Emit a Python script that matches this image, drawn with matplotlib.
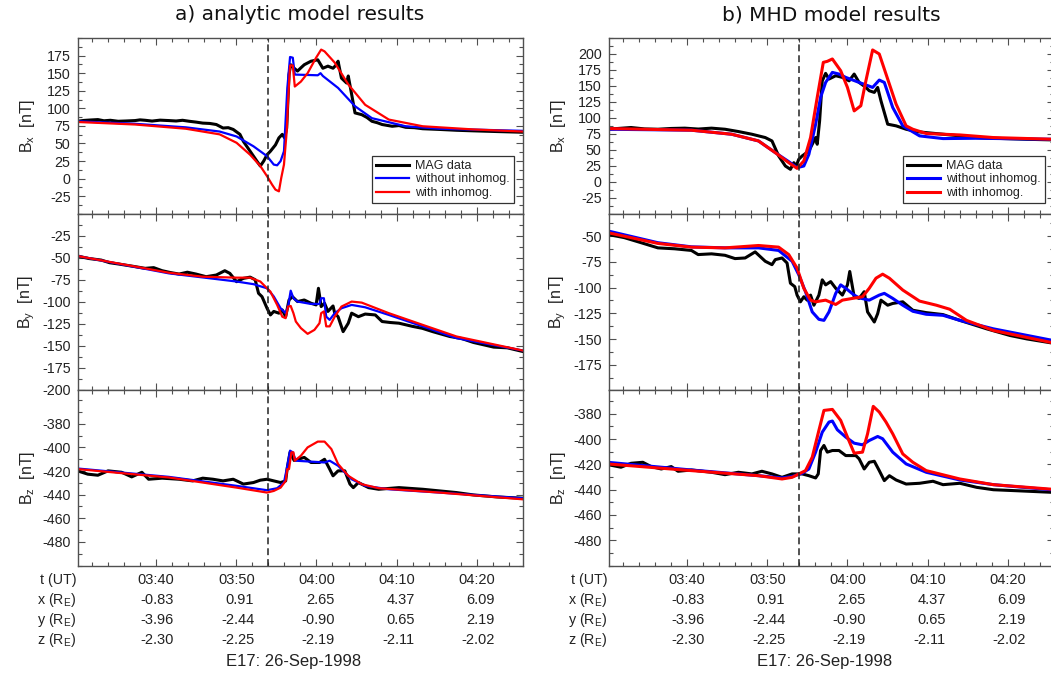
import matplotlib
matplotlib.use("Agg")
import matplotlib.pyplot as plt
from matplotlib.ticker import FixedLocator, MultipleLocator, NullFormatter
from matplotlib.transforms import blended_transform_factory, ScaledTranslation

BASE = "Liberation Sans"
plt.rcParams["font.family"] = [BASE, "DejaVu Sans"]
plt.rcParams["mathtext.fontset"] = "custom"
plt.rcParams["mathtext.rm"] = BASE
plt.rcParams["mathtext.it"] = BASE + ":italic"
plt.rcParams["axes.unicode_minus"] = False

# ---------------------------------------------------------------- data
# times are minutes after 03:30 UT on 26-Sep-1998 (Galileo E17)
XLIM = (0.2, 55.7)
EVENT_T = 23.9

tick_minutes = [10, 20, 30, 40, 50]
tick_ut = ["03:40", "03:50", "04:00", "04:10", "04:20"]
pos_x = ["-0.83", "0.91", "2.65", "4.37", "6.09"]
pos_y = ["-3.96", "-2.44", "-0.90", "0.65", "2.19"]
pos_z = ["-2.30", "-2.25", "-2.19", "-2.11", "-2.02"]

# ---- a) analytic model
a_bx_mag_t = [0.21, 1.0, 1.8, 2.74, 3.5, 4.3, 5.27, 6.2, 7.38, 8.0, 8.65, 9.5, 10.5, 11.6, 12.5, 13.3, 14.14,
              15.0, 15.82, 16.7, 17.51, 18.35, 19.0, 19.62, 20.46, 20.89, 21.73, 22.57,
              23.0, 23.42, 23.84, 24.26, 24.89, 25.32, 25.74, 26.03, 26.29, 26.58, 26.79, 27.22, 27.64, 28.1, 28.48,
              29.32, 30.17, 30.8, 31.43, 32.07, 32.49, 32.7, 33.12, 33.76, 33.97, 34.39, 34.81, 35.65, 36.3, 36.92,
              37.6, 38.19, 39.45, 40.3, 41.14, 42.2, 43.25, 45.36, 47.5, 49.58, 52.5, 55.7]
a_bx_mag = [81.6, 82.8, 83.4, 84, 82.3, 83.0, 81.6, 82.0, 82.6, 83.6, 83, 81.9, 83.2, 82.6, 82.0, 83.0, 81.6,
            80.4, 79, 78.5, 77, 72, 72.5, 70, 63, 53, 39, 25,
            18, 25, 34, 39, 48, 58, 63, 58, 72, 148, 162, 157, 153, 158, 162,
            167, 169, 157, 160, 157, 162, 167, 143, 136, 146, 120, 93.5, 91, 87, 81.6,
            79.5, 77, 74.5, 75.5, 73, 72.5, 71, 70, 68.8, 68, 67, 66]
a_bx_wo_t = [0.21, 7.38, 13.71, 17.93, 20.04, 22.15, 23.84, 24.68, 25.1, 25.53, 25.95, 26.37, 26.71, 27.05, 27.3,
             30.17, 30.51, 30.8, 32.7, 34.81, 36.92, 41.14, 45.36, 55.7]
a_bx_wo = [81.6, 78, 73, 67, 60, 46, 32, 20, 19, 25, 39, 129, 173, 172, 148,
           147, 150, 146, 129, 103, 86, 74.5, 71, 68]
a_bx_w_t = [0.21, 7.38, 13.71, 17.93, 20.04, 21.73, 23.0, 23.84, 24.47, 24.89, 25.32, 25.61, 25.95, 26.29, 26.46,
            26.71, 27.05, 27.3, 28.06, 28.9, 29.96, 30.59, 31.01, 32.28, 33.97, 36.08, 39.03, 43.25, 49.58, 55.7]
a_bx_w = [80.6, 77, 71, 63, 51, 34, 18, 3.5, -8.5, -15.6, -18, 1, 20, 67, 110,
          161, 161, 131, 138, 150, 172, 183.5, 181, 165, 134, 105, 84, 74.5, 70, 67]

a_by_mag_t = [0.21, 1.6, 3.16, 4.2, 5.27, 7.0, 8.65, 9.7, 10.76, 11.8, 12.87, 13.9, 14.98, 16.24, 17.51, 18.57,
              19.2, 20.04, 20.89, 21.73, 22.36,
              22.78, 23.21, 23.84, 24.26, 24.68, 25.32, 25.74, 26.16, 26.58, 27.0, 27.64, 28.48, 29.32, 29.96, 30.25,
              30.59, 31.01, 31.43, 32.07, 32.28, 32.7, 33.33, 33.97, 34.39, 35.23, 36.08, 37.34, 38.19, 39.2, 40.3,
              41.98, 43.2, 44.51, 46.62, 48.1, 49.58, 52.11, 53.8, 55.7]
a_by_mag = [-48, -50.8, -52.6, -55.6, -57, -59.5, -62, -61.2, -64.7, -66.8, -68.5, -66.4, -68.5, -71.5, -69.6, -64.7,
            -67.7, -77.2, -73.4, -72, -75,
            -90.4, -94.2, -107.4, -115, -111, -113, -109.3, -117, -98, -94.2, -99.8, -98, -101.7, -103.6, -84.7,
            -105.5, -101.7, -111, -104.8, -113, -117, -134, -124.4, -113, -117, -114, -115, -122.5, -123.6, -124.4,
            -128, -130.2, -134, -139.5, -141.8, -146.3, -151.6, -152.4, -156.5]
a_by_wo_t = [0.21, 11.6, 20.04, 22.15, 23.84, 24.68, 25.53, 26.16, 26.46, 26.79, 27.13, 27.64, 29.32, 30.38, 30.59,
             30.93, 31.22, 31.65, 32.28, 33.12, 34.39, 36.08, 39.03, 43.25, 47.47, 55.7]
a_by_wo = [-48, -67.7, -77, -80, -84.7, -94, -107.4, -113, -105.5, -87.4, -96, -99.8, -102.5, -102.5, -96,
           -96, -117, -120.6, -113, -107.4, -103.6, -106.3, -115, -128, -141.4, -155.4]
a_by_w_t = [0.21, 11.6, 15.82, 20.04, 21.73, 23.0, 24.26, 25.1, 25.74, 26.16, 26.46, 26.79, 27.13, 27.43, 28.06,
            28.9, 29.75, 30.38, 30.59, 30.93, 31.22, 31.65, 32.28, 33.12, 34.39, 35.65, 39.03, 43.25, 47.47, 55.7]
a_by_w = [-48, -67, -71.5, -72.6, -72.6, -77, -88.5, -103.6, -117, -118.7, -105.5, -104.8, -113, -122.5, -130,
          -136.5, -132, -124.4, -113, -111, -128, -128, -117, -105.5, -99.8, -101, -113, -126.3, -139.5, -155.4]

a_bz_mag_t = [0.21, 1.48, 2.74, 4.01, 5.7, 6.96, 8.23, 9.07, 10.76, 12.87, 14.56, 15.82, 17.09, 18.35, 19.62,
              20.89, 22.15, 23.0, 23.84, 24.68, 25.53, 26.16, 26.37, 26.71, 27.22, 28.48, 29.32, 30.38, 31.01, 31.65,
              32.07, 32.7, 33.54, 34.18, 34.6, 35.23, 36.5, 37.76, 40.3, 43.25, 45.36, 47.47, 49.58, 52.53, 55.7]
a_bz_mag = [-419.8, -422.6, -423.5, -419.8, -421, -424.9, -421, -426.9, -426, -426.9, -428.3, -426, -426.9, -428.3,
            -426.9, -431, -429.7, -427.7, -426.9, -428.3, -429.7, -428.3, -417, -404, -411, -408.4, -412.7, -412.7,
            -410, -418.3, -424, -419.8, -419.8, -431, -434, -429.7, -434, -435.4, -434, -435.4, -436.8, -438.2,
            -440.2, -441.9, -443]
a_bz_wo_t = [0.21, 11.6, 20.04, 23.84, 25.1, 25.95, 26.29, 26.71, 27.05, 27.43, 31.01, 31.65, 32.7, 34.39, 36.08,
             39.03, 45.36, 55.7]
a_bz_wo = [-417.8, -424.9, -432.5, -436.2, -434.5, -429.7, -418.3, -402.7, -404.1, -411.2, -412.7, -411.2, -415.5,
           -426.9, -432.5, -435.4, -438.2, -443]
a_bz_w_t = [0.21, 11.6, 20.04, 23.84, 24.68, 25.53, 26.16, 26.37, 26.58, 26.88, 27.13, 27.3, 28.06, 28.9, 30.17,
            31.01, 31.86, 32.7, 33.97, 35.65, 37.76, 45.36, 55.7]
a_bz_w = [-418.3, -425.4, -434, -438.2, -436.8, -434, -428.3, -418.3, -418.3, -404.1, -404.1, -411.2, -407, -399.9,
          -395, -395, -401.3, -414, -424, -431.1, -434.5, -438.2, -443.9]

# ---- b) MHD model
b_bx_mag_t = [0.08, 1.5, 3.01, 4.7, 6.36, 8.0, 9.71, 11.4, 13.05, 14.73, 16.4, 18.08, 19.75, 20.59, 21.42, 22.26,
              22.89, 23.31, 23.6,
              23.93, 24.35, 25.19, 25.61, 26.03, 26.23, 26.53, 26.86, 27.28, 27.7, 28.54, 29.37, 30.21, 30.84, 31.46,
              32.3, 32.72, 33.35, 33.77, 34.18, 34.6, 35.02, 36.07, 37.32, 38.58, 39.83, 41.92, 44.02, 46.11, 48.2,
              52.38, 55.7]
b_bx_mag = [82.3, 83.6, 85, 82.8, 82.3, 83.5, 84, 82.6, 84, 82.3, 78.7, 74.5, 69.3, 64, 40.5, 24.8,
            19.6, 30, 24.8,
            35.3, 40.5, 48.3, 58.8, 69.3, 58.8, 95.4, 158, 169.7, 160.8, 166, 163.4, 158, 168.6, 155.5,
            147.7, 142.5, 139.9, 147.7, 126.8, 108.5, 90.2, 87.6, 82.3, 78.7, 77, 74.5, 71.9, 69.3, 68.2,
            66.6, 65.6]
b_bx_wo_t = [0.08, 10.54, 15.56, 18.91, 21.0, 22.68, 23.72, 24.56, 25.19, 26.03, 26.65, 27.28, 28.12, 28.95, 29.79,
             31.46, 33.14, 33.97, 34.6, 35.65, 36.9, 39.0, 41.92, 46.11, 55.7]
b_bx_wo = [82.3, 80.8, 74.5, 64, 45.7, 31.6, 22.2, 24.8, 43, 90, 132, 155.5, 171.2, 168.6, 163.4,
           155.5, 147.7, 159.2, 155.5, 116.3, 87.6, 71.9, 67.7, 68.2, 66.6]
b_bx_w_t = [0.08, 10.54, 15.56, 18.91, 21.0, 22.68, 23.72, 24.56, 25.4, 26.23, 26.99, 27.49, 28.12, 29.16, 30.0,
            30.84, 31.67, 32.3, 33.14, 33.97, 34.81, 36.07, 37.32, 38.16, 39.83, 44.02, 48.2, 55.7]
b_bx_w = [83.4, 80.8, 74.5, 64, 45.7, 30, 21.1, 32.7, 69.3, 132, 186.9, 188.5, 192.2, 173.8, 147.7,
          111, 119, 158, 206.3, 200, 168.6, 121.5, 87.6, 82.3, 75.6, 73.4, 69.3, 66.6]

b_by_mag_t = [0.08, 2.18, 4.27, 6.36, 8.45, 10.54, 11.38, 13.05, 14.73, 15.98, 17.24, 18.49, 19.75, 20.59, 21.0,
              21.84, 22.47, 22.89, 23.43, 23.72, 24.14, 24.56, 24.98, 25.4, 25.82, 26.44, 26.86, 27.28, 27.91, 28.54,
              29.37, 30.0, 30.29, 30.84, 31.46, 32.09, 32.51, 33.35, 33.77, 34.18, 35.02, 35.65, 36.9, 38.16, 39.83,
              41.92, 44.02, 47.36, 50.29, 52.38, 55.7]
b_by_mag = [-48.4, -51.6, -56.5, -61.5, -62.4, -64, -68, -67.3, -68.7, -71.9, -71.3, -65.4, -74.5, -77.8, -72.9,
            -71.3, -76.2, -95.8, -99.1, -107.3, -113.8, -108.9, -112.2, -107.3, -117.1, -107.3, -92.5, -97.4, -94.2,
            -100.7, -107.3, -97.4, -84.4, -108.9, -110.5, -104, -123.6, -133.4, -125.3, -112.2, -117.1, -115.4,
            -113.8, -122, -124.3, -126.2, -131.8, -140, -146.5, -149.8, -154]
b_by_wo_t = [0.08, 6.36, 10.54, 14.73, 18.91, 21.42, 23.1, 23.93, 24.77, 25.61, 26.44, 27.07, 27.7, 28.54, 29.16,
             29.79, 30.84, 31.46, 32.72, 33.97, 34.6, 35.65, 36.9, 38.16, 39.83, 41.92, 44.02, 48.2, 55.7]
b_by_wo = [-45, -56.5, -60.5, -61.5, -61.5, -64, -74.5, -87.6, -104, -123.6, -130.8, -131.8, -123.6, -105.6, -97.4,
           -100.7, -107.3, -110, -112.2, -107.3, -105.6, -110.5, -117.1, -123, -125.9, -126.9, -131.8, -140, -151.4]
b_by_w_t = [0.08, 6.36, 10.54, 14.73, 18.91, 21.42, 22.68, 23.72, 24.56, 25.4, 26.03, 27.28, 28.54, 29.37, 30.63,
            31.88, 32.72, 33.56, 34.39, 35.23, 36.9, 38.99, 41.09, 42.76, 44.85, 48.2, 55.7]
b_by_w = [-46.7, -57.2, -60.8, -61.5, -59.2, -60.8, -68, -81.1, -100.7, -112.2, -113.8, -112.2, -116.4, -112.2,
          -110.5, -108.9, -100.7, -90.9, -87, -90.9, -102.4, -113.1, -117.1, -121, -131.8, -141.6, -153.7]

b_bz_mag_t = [0.08, 1.76, 3.01, 4.48, 5.52, 6.78, 8.03, 8.87, 10.54, 13.05, 14.73, 16.4, 18.08, 19.33, 20.59,
              21.84, 23.1, 24.35, 25.19, 26.03, 26.36, 26.65, 27.07, 27.49, 28.12, 28.95, 29.79, 31.05, 31.46, 32.09,
              32.72, 33.35, 33.97, 34.6, 35.23, 36.07, 37.32, 39.0, 40.67, 41.92, 44.02, 46.11, 48.2, 51.13, 55.7]
b_bz_mag = [-420.2, -422.3, -419.2, -418.4, -421.8, -423.7, -421.8, -425.5, -424.5, -426.3, -428.2, -426.3, -427.6,
            -425.5, -427.6, -430.3, -427.6, -427.6, -429, -430.8, -427.6, -409.1, -405.1, -410.4, -409.1, -409.1,
            -413.1, -413.1, -415.7, -423.7, -418.4, -417.6, -425, -432.9, -429, -432.4, -435.6, -435, -433.4,
            -436.1, -435, -438.2, -440.1, -440.9, -442.2]
b_bz_wo_t = [0.08, 10.54, 18.91, 21.84, 23.1, 24.35, 25.19, 26.03, 26.86, 27.7, 28.12, 28.74, 29.79, 30.84, 31.88,
             32.72, 33.77, 34.39, 35.65, 37.32, 39.83, 44.02, 48.2, 55.7]
b_bz_wo = [-418.4, -424.5, -429, -430.8, -429.7, -427.1, -423.7, -410.4, -394.6, -386.6, -385.8, -392.7, -398.5,
           -403.3, -404.6, -401.2, -398, -399.8, -410.4, -419.7, -426.3, -432.4, -436.1, -440.3]
b_bz_w_t = [0.08, 10.54, 18.91, 21.84, 23.1, 24.77, 25.61, 26.44, 27.07, 28.12, 29.16, 30.0, 30.84, 31.88, 32.51,
            33.22, 33.97, 34.81, 35.65, 36.9, 38.16, 39.83, 44.02, 48.2, 55.7]
b_bz_w = [-419.7, -425, -429, -431.6, -430.3, -425, -414.4, -393.2, -377.4, -376.6, -385.3, -398.5, -411.2, -410.4,
          -395.9, -374.2, -378.7, -386.6, -395.9, -411.8, -418.4, -425, -431.6, -436.1, -439.8]

series_labels = ["MAG data", "without inhomog.", "with inhomog."]
titles = ["a) analytic model results", "b) MHD model results"]
date_label = "E17: 26-Sep-1998"

# ---------------------------------------------------------------- layout
W, H = 1051, 673
fig = plt.figure(figsize=(W / 100, H / 100), dpi=100)

SPINE = "#505050"
TXT = "#222222"
top_px, bot_px = 38.0, 565.5
ph = (bot_px - top_px) / 3
col_left_px = [77.5, 608.5]
col_w_px = 445.0

columns = [
    dict(
        title=titles[0],
        panels=[
            ("x", (a_bx_mag_t, a_bx_mag), (a_bx_wo_t, a_bx_wo), (a_bx_w_t, a_bx_w),
             (-50, 200), list(range(-25, 176, 25)), 12.5),
            ("y", (a_by_mag_t, a_by_mag), (a_by_wo_t, a_by_wo), (a_by_w_t, a_by_w),
             (-200, 0), list(range(-200, -24, 25)), 12.5),
            ("z", (a_bz_mag_t, a_bz_mag), (a_bz_wo_t, a_bz_wo), (a_bz_w_t, a_bz_w),
             (-500, -351), list(range(-480, -379, 20)), 10),
        ],
        lw_model=1.6,
    ),
    dict(
        title=titles[1],
        panels=[
            ("x", (b_bx_mag_t, b_bx_mag), (b_bx_wo_t, b_bx_wo), (b_bx_w_t, b_bx_w),
             (-50, 225), list(range(-25, 201, 25)), 12.5),
            ("y", (b_by_mag_t, b_by_mag), (b_by_wo_t, b_by_wo), (b_by_w_t, b_by_w),
             (-199, -28.5), list(range(-175, -49, 25)), 12.5),
            ("z", (b_bz_mag_t, b_bz_mag), (b_bz_wo_t, b_bz_wo), (b_bz_w_t, b_bz_w),
             (-500, -361), list(range(-480, -379, 20)), 10),
        ],
        lw_model=2.2,
    ),
]

for ci, col in enumerate(columns):
    left = col_left_px[ci] / W
    width = col_w_px / W
    axes = []
    for pi, (comp, mag, wo, w, ylim, yt, ymin) in enumerate(col["panels"]):
        bottom = 1 - (top_px + ph * (pi + 1)) / H
        ax = fig.add_axes([left, bottom, width, ph / H])
        axes.append(ax)
        ax.plot(mag[0], mag[1], color="black", lw=2.2, label=series_labels[0], solid_joinstyle="round")
        ax.plot(wo[0], wo[1], color="#0000ff", lw=col["lw_model"], label=series_labels[1])
        ax.plot(w[0], w[1], color="#ff0000", lw=col["lw_model"], label=series_labels[2])
        ax.axvline(EVENT_T, color="#222222", lw=1.1, dashes=(4.5, 2.6))
        ax.set_xlim(*XLIM)
        ax.set_ylim(*ylim)
        ax.xaxis.set_major_locator(FixedLocator(tick_minutes))
        ax.xaxis.set_minor_locator(MultipleLocator(2))
        ax.xaxis.set_major_formatter(NullFormatter())
        ax.yaxis.set_major_locator(FixedLocator(yt))
        ax.yaxis.set_minor_locator(MultipleLocator(ymin))
        ax.tick_params(which="both", direction="in", top=True, right=True, color=SPINE, width=0.8)
        ax.tick_params(which="major", length=5)
        ax.tick_params(which="minor", length=3)
        ax.tick_params(axis="y", labelsize=10.3, labelcolor=TXT, pad=5)
        for s in ax.spines.values():
            s.set_color(SPINE)
            s.set_linewidth(1.0)
        ax.set_ylabel(r"B$_{\rm %s}$  [nT]" % comp, fontsize=11.5, color=TXT)
        ax.yaxis.set_label_coords(-0.092, 0.5)
        if pi == 0:
            leg = ax.legend(loc="lower right", bbox_to_anchor=(0.981, 0.06), borderaxespad=0,
                            fontsize=9, frameon=True, fancybox=False, framealpha=1,
                            edgecolor="#333333", handlelength=2.6, handletextpad=0.5,
                            borderpad=0.35, labelspacing=0.12)
            leg.get_frame().set_linewidth(0.9)
            for txt in leg.get_texts():
                txt.set_color(TXT)

    # position table below the bottom panel
    ax_b = axes[-1]
    tr = blended_transform_factory(ax_b.transData, fig.transFigure)
    tr_r = tr + ScaledTranslation(0.18, 0, fig.dpi_scale_trans)
    tr_lab = blended_transform_factory(ax_b.transAxes, fig.transFigure) + \
        ScaledTranslation(-0.01, 0, fig.dpi_scale_trans)
    row_y = [1 - 580.3 / H, 1 - 600.0 / H, 1 - 620.2 / H, 1 - 640.1 / H]
    row_names = ["t (UT)", r"x (R$_{\rm E}$)", r"y (R$_{\rm E}$)", r"z (R$_{\rm E}$)"]
    for name, yy in zip(row_names, row_y):
        ax_b.text(0, yy, name, transform=tr_lab, ha="right", va="center", fontsize=10.3, color=TXT)
    for tm, lab, px, py, pz in zip(tick_minutes, tick_ut, pos_x, pos_y, pos_z):
        ax_b.text(tm, row_y[0], lab, transform=tr, ha="center", va="center", fontsize=10.5, color=TXT)
        for val, yy in zip((px, py, pz), row_y[1:]):
            ax_b.text(tm, yy, val, transform=tr_r, ha="right", va="center", fontsize=10.5, color=TXT)
    ax_b.text(0.485, 1 - 661.4 / H, date_label, transform=blended_transform_factory(ax_b.transAxes, fig.transFigure),
              ha="center", va="center", fontsize=12, color=TXT)

    # column title
    fig.text((col_left_px[ci] + col_w_px / 2) / W, 1 - 20.5 / H, col["title"], ha="center", va="baseline",
             fontsize=14.5, family="DejaVu Sans", color="#111111")

fig.savefig("out.png", dpi=100)
